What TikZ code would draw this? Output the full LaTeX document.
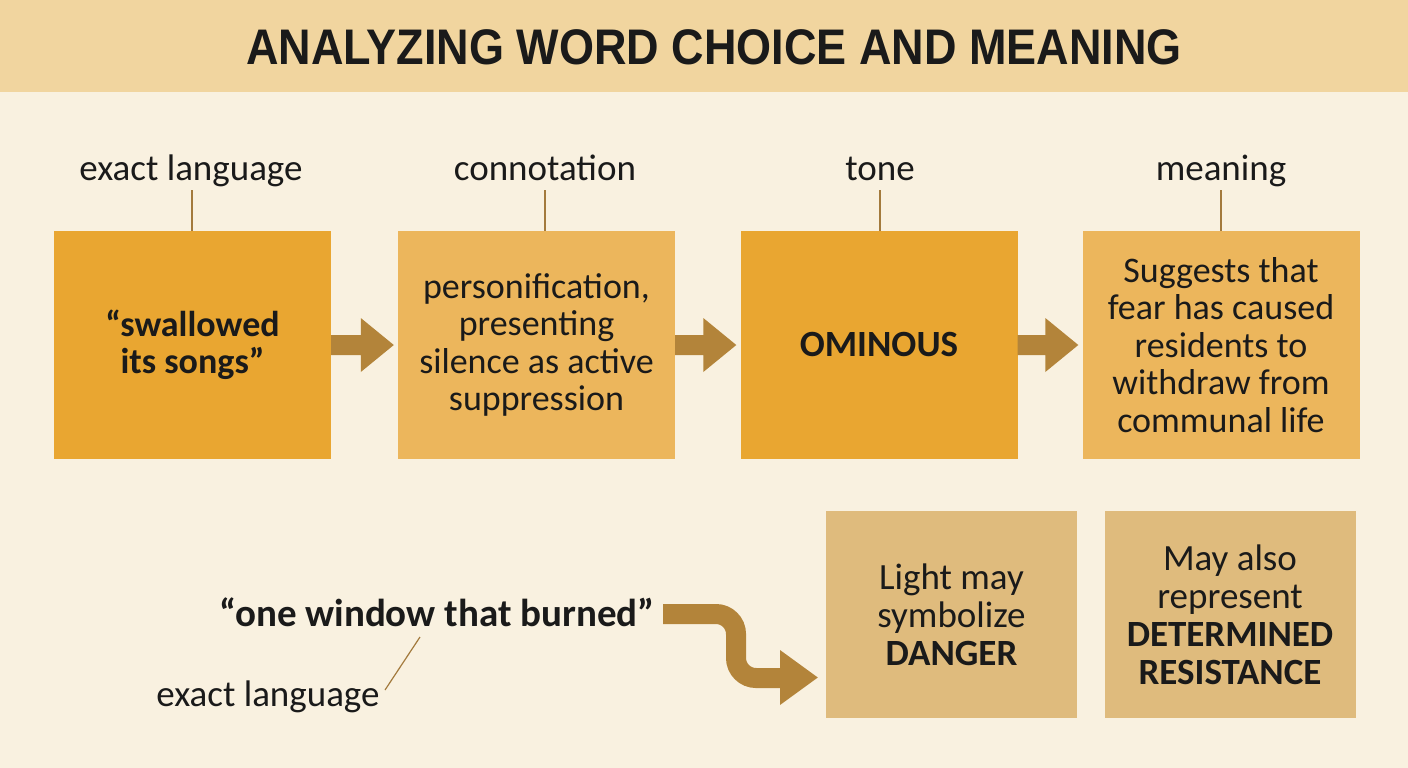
\documentclass[tikz,border=0pt]{standalone}
\usepackage{fontspec}
\setmainfont{Carlito}
\newfontfamily\titlefont[FakeStretch=0.90]{Liberation Sans}
\usetikzlibrary{calc}
\definecolor{bgc}{HTML}{F9F1E0}
\definecolor{headc}{HTML}{F1D59F}
\definecolor{darkc}{HTML}{E9A631}
\definecolor{lightc}{HTML}{ECB65C}
\definecolor{tanc}{HTML}{DFBB7D}
\definecolor{arrowc}{HTML}{B3843A}
\definecolor{tickc}{HTML}{A37A3D}
\definecolor{inkc}{HTML}{1A1A1A}
\tikzset{
  box/.style={rectangle, inner sep=0pt, minimum width=277pt, minimum height=228pt,
    align=center, text=inkc, font=\fontsize{36}{37.5}\selectfont},
  lowbox/.style={rectangle, fill=tanc, inner sep=0pt, minimum width=251pt, minimum height=207pt,
    align=center, text=inkc, font=\fontsize{37}{38}\selectfont},
  lbl/.style={text=inkc, font=\fontsize{37}{40}\selectfont, inner sep=0pt, anchor=base},
  tickline/.style={draw=tickc, line width=1.3pt},
  blockarrow/.style={fill=arrowc},
}
\begin{document}
\begin{tikzpicture}[x=1pt,y=-1pt]
\fill[bgc] (0,0) rectangle (1408,768);
\useasboundingbox (0,0) rectangle (1408,768);
\fill[headc] (0,0) rectangle (1408,92);
\node[text=inkc, font=\titlefont\bfseries\fontsize{50}{56}\selectfont, anchor=base, inner sep=0pt] (title) at (714,64) {ANALYZING WORD CHOICE AND MEANING};

% top row boxes
\node[box, fill=darkc] (b1) at (192.5,345) {\bfseries “swallowed\\\bfseries its songs”};
\node[box, fill=lightc] (b2) at (536.5,345) {personification,\\presenting\\silence as active\\suppression};
\node[box, fill=darkc, font=\fontsize{37}{38}\selectfont] (b3) at (879,345) {\bfseries OMINOUS};
\node[box, fill=lightc] (b4) at (1221,345) {Suggests that\\fear has caused\\residents to\\withdraw from\\communal life};

% labels
\node[lbl] (l1) at (191,180) {exact language};
\node[lbl] (l2) at (545,180) {connotation};
\node[lbl] (l3) at (880,180) {tone};
\node[lbl] (l4) at (1221,180) {meaning};
\foreach \l/\b/\x in {l1/b1/192, l2/b2/545, l3/b3/880, l4/b4/1221}{
  \draw[tickline] (\x,190) -- (\b.north -| \x,190);
}

% block arrows between boxes
\foreach \a/\b in {b1/b2, b2/b3, b3/b4}{
  \path (\a.east) coordinate (s) (\b.west) coordinate (t);
  \fill[blockarrow] ($(s)+(0,-10)$) -- ($(t)+(-37,-10)$) -- ($(t)+(-37,-27)$) -- ($(t)+(-4,0)$)
     -- ($(t)+(-37,27)$) -- ($(t)+(-37,10)$) -- ($(s)+(0,10)$) -- cycle;
}

% lower part
\node[text=inkc, font=\bfseries\fontsize{39}{44}\selectfont, inner sep=2pt] (q) at (437,612) {“one window that burned”};
\node[lbl] (el) at (268,706) {exact language};
\coordinate (e1) at (385,690);
\coordinate (e2) at (420,637);
\draw[draw=tickc, line width=1.2pt] (e1) -- (e2);

\node[lowbox] (b5) at (951.5,614.5) {Light may\\symbolize\\\bfseries DANGER};
\node[lowbox] (b6) at (1230,614.5) {May also\\represent\\\bfseries DETERMINED\\\bfseries RESISTANCE};

% curved arrow
\coordinate (c0) at (663,614);
\coordinate (c3) at (783,678);
\draw[arrowc, line width=20pt, rounded corners=20pt] (c0) -- (736,614) -- (736,678) -- (c3);
\fill[arrowc] (780,650) -- ($(b5.west)+(-8,63)$) -- (780,705) -- cycle;
\end{tikzpicture}
\end{document}
